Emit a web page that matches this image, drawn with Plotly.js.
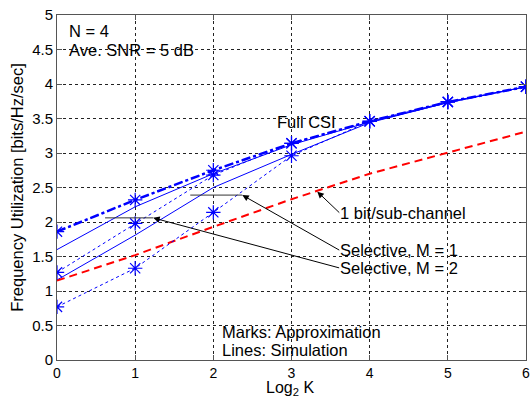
<!DOCTYPE html>
<html><head><meta charset="utf-8">
<script src="https://cdn.plot.ly/plotly-3.0.1.min.js"></script>
<style>html,body{margin:0;padding:0;background:#fff}#chart{width:532px;height:401px}</style>
</head><body><div id="chart"></div>
<script>
const log2K = [0, 1, 2, 3, 4, 5, 6];
const fullCsiSim = [1.86, 2.32, 2.75, 3.14, 3.46, 3.74, 3.96];
const fullCsiApprox = [1.86, 2.32, 2.75, 3.14, 3.46, 3.74, 3.96];
const selM2Sim = [1.60, 2.22, 2.70, 3.12, 3.45, 3.73, 3.96];
const selM2Approx = [1.27, 1.98, 2.68, 3.14, 3.46, 3.74, 3.96];
const selM1Sim = [1.16, 1.81, 2.50, 2.98, 3.44, 3.73, 3.96];
const selM1Approx = [0.77, 1.33, 2.14, 2.96, 3.46, 3.74, 3.96];
const oneBit = [1.15, 1.52, 1.93, 2.33, 2.70, 3.01, 3.31];
const xTicks = [0, 1, 2, 3, 4, 5, 6];
const yTicks = [0, 0.5, 1, 1.5, 2, 2.5, 3, 3.5, 4, 4.5, 5];

const blue = '#0000ff';
const star = {symbol: 'asterisk-open', size: 12, color: blue, line: {color: blue, width: 1.2}};
const traces = [
  {x: log2K, y: selM1Sim, mode: 'lines', line: {color: blue, width: 1}},
  {x: log2K, y: selM2Sim, mode: 'lines', line: {color: blue, width: 1}},
  {x: log2K, y: oneBit, mode: 'lines', line: {color: '#ff0000', width: 2, dash: '8px,5px'}},
  {x: log2K, y: selM1Approx, mode: 'lines+markers', line: {color: blue, width: 1, dash: 'dot'}, marker: star},
  {x: log2K, y: selM2Approx, mode: 'lines+markers', line: {color: blue, width: 1, dash: 'dot'}, marker: star},
  {x: log2K, y: fullCsiSim, mode: 'lines', line: {color: blue, width: 2.5, dash: 'dashdot'}},
  {x: log2K, y: fullCsiApprox, mode: 'lines+markers', line: {color: blue, width: 1, dash: 'dot'}, marker: star}
];

const f = {family: 'Liberation Sans, Arial, sans-serif', size: 16.5, color: '#000'};
function txt(t, x, y) {
  return {text: t, x: x, y: y, xref: 'x', yref: 'y', showarrow: false, xanchor: 'left', yanchor: 'middle', font: f};
}
function arr(t, x, y, ax, ay) {
  return {text: t, x: x, y: y, xref: 'x', yref: 'y', ax: ax, ay: ay, showarrow: true,
    xanchor: 'left', yanchor: 'middle', font: f, borderpad: 0,
    arrowhead: 2, arrowsize: 1.3, arrowwidth: 1, arrowcolor: '#000'};
}

const layout = {
  width: 532, height: 401,
  margin: {l: 57, r: 6, t: 15, b: 41},
  paper_bgcolor: '#fff', plot_bgcolor: '#fff',
  showlegend: false,
  font: {family: 'Liberation Sans, Arial, sans-serif', size: 15, color: '#000'},
  xaxis: {
    range: [0, 6], tickvals: xTicks, ticktext: xTicks.map(String),
    showgrid: true, gridcolor: '#222', griddash: 'dot', gridwidth: 1,
    zeroline: false, showline: true, linecolor: '#555', linewidth: 1, mirror: 'ticks',
    ticks: 'inside', ticklen: 5, tickcolor: '#555',
    tickfont: {size: 14}
  },
  yaxis: {
    range: [0, 5], tickvals: yTicks, ticktext: yTicks.map(String),
    showgrid: true, gridcolor: '#222', griddash: 'dot', gridwidth: 1,
    zeroline: false, showline: true, linecolor: '#555', linewidth: 1, mirror: 'ticks',
    ticks: 'inside', ticklen: 5, tickcolor: '#555',
    tickfont: {size: 15},
    title: {text: 'Frequency Utilization [bits/Hz/sec]', font: {size: 16.5}, standoff: 4}
  },
  shapes: [
    {type: 'line', xref: 'x', yref: 'y', x0: 1.705, x1: 2.37, y0: 2.39, y1: 2.39, line: {color: '#333', width: 1}},
    {type: 'line', xref: 'x', yref: 'y', x0: 0.615, x1: 1.23, y0: 2.06, y1: 2.06, line: {color: '#333', width: 1}}
  ],
  annotations: [
    {text: 'Log<sub>2</sub> K', xref: 'paper', yref: 'paper', x: 0.497, y: -0.114,
      xanchor: 'center', yanchor: 'bottom', showarrow: false, borderpad: 0,
      font: {family: f.family, size: 16, color: '#000'}},
    txt('N = 4', 0.128, 4.77),
    txt('Ave. SNR = 5 dB', 0.128, 4.49),
    txt('Full CSI', 2.79, 3.45),
    txt('Marks: Approximation', 2.09, 0.41),
    txt('Lines: Simulation', 2.09, 0.145),
    arr('1 bit/sub-channel', 3.33, 2.44, 22, 21),
    arr('Selective, M = 1', 2.37, 2.39, 97, 55),
    arr('Selective, M = 2', 1.23, 2.06, 186, 50)
  ]
};
Plotly.newPlot('chart', traces, layout, {staticPlot: true, displayModeBar: false});
</script></body></html>
